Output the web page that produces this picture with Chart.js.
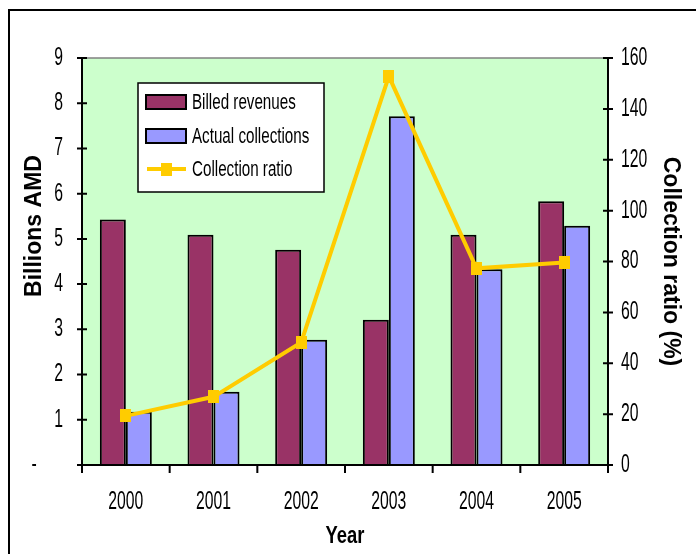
<!DOCTYPE html>
<html>
<head>
<meta charset="utf-8">
<script src="https://cdn.jsdelivr.net/npm/chart.js@4"></script>
<style>
    body { margin: 0; background: #fff; }
    #box { width: 696px; height: 554px; }
</style>
</head>
<body>
<div id="box"><canvas id="revChart"></canvas></div>
<script>
// data
const years = ['2000', '2001', '2002', '2003', '2004', '2005'];
const billedRevenues = [5.43, 5.09, 4.76, 3.21, 5.09, 5.83];
const actualCollections = [1.18, 1.62, 2.77, 7.71, 4.33, 5.29];
const collectionRatio = [19.3, 26.8, 48.2, 152.8, 77.3, 79.6];
const leftTicks = ['-', '1', '2', '3', '4', '5', '6', '7', '8', '9'];

const FONT = "'Liberation Sans', Arial, sans-serif";
const GOLD = '#FFCC00';

// no narrow font installed, so squeeze upright text sideways when it is drawn
let squeeze = 0.63;
const rawFillText = CanvasRenderingContext2D.prototype.fillText;
CanvasRenderingContext2D.prototype.fillText = function (text, x, y) {
    const m = this.getTransform();
    if (m.b !== 0 || m.c !== 0) return rawFillText.call(this, text, x, y);
    const k = this.font.indexOf('bold') >= 0 ? 0.8 : squeeze;
    this.save();
    this.translate(x, y);
    this.scale(k, 1);
    rawFillText.call(this, text, 0, 0);
    this.restore();
};

// slightly tall square marker, like the picture
const marker = document.createElement('canvas');
marker.width = 11;
marker.height = 13;
const mctx = marker.getContext('2d');
mctx.fillStyle = GOLD;
mctx.fillRect(0, 0, 11, 13);

// background, plot area, outer frame
const backdrop = {
    id: 'backdrop',
    beforeDraw(chart) {
        const { ctx, chartArea: a } = chart;
        ctx.save();
        ctx.fillStyle = '#fff';
        ctx.fillRect(0, 0, chart.width, chart.height);
        ctx.fillStyle = '#CCFFCC';
        ctx.fillRect(a.left, a.top, a.right - a.left, a.bottom - a.top);
        ctx.strokeStyle = '#808080';
        ctx.lineWidth = 1.5;
        ctx.beginPath();
        ctx.moveTo(a.left, a.top);
        ctx.lineTo(a.right, a.top);
        ctx.stroke();
        ctx.strokeStyle = '#000';
        ctx.lineWidth = 2;
        ctx.beginPath();
        ctx.moveTo(9, chart.height);
        ctx.lineTo(9, 10);
        ctx.lineTo(chart.width, 10);
        ctx.stroke();
        ctx.restore();
    }
};

// axis lines, crossing tick marks, left title and the legend box
const axesAndLegend = {
    id: 'axesAndLegend',
    afterDraw(chart) {
        const { ctx, chartArea: a, scales } = chart;
        ctx.save();
        ctx.strokeStyle = '#000';
        ctx.lineWidth = 2;
        ctx.beginPath();
        ctx.moveTo(a.left, a.top);
        ctx.lineTo(a.left, a.bottom);
        ctx.lineTo(a.right, a.bottom);
        ctx.lineTo(a.right, a.top);
        scales.y.ticks.forEach(t => {
            const py = scales.y.getPixelForValue(t.value);
            ctx.moveTo(a.left - 5, py);
            ctx.lineTo(a.left + 5, py);
        });
        scales.y1.ticks.forEach(t => {
            const py = scales.y1.getPixelForValue(t.value);
            ctx.moveTo(a.right - 5, py);
            ctx.lineTo(a.right + 5, py);
        });
        const half = (scales.x.getPixelForValue(1) - scales.x.getPixelForValue(0)) / 2;
        for (let i = 0; i <= years.length; i++) {
            const px = scales.x.getPixelForValue(i) - half;
            ctx.moveTo(px, a.bottom);
            ctx.lineTo(px, a.bottom + 8);
        }
        ctx.stroke();

        // left axis title sits a bit above the middle in the picture
        ctx.save();
        ctx.translate(35, 226);
        ctx.rotate(-Math.PI / 2);
        ctx.font = 'bold 23px ' + FONT;
        ctx.fillStyle = '#000';
        ctx.textAlign = 'center';
        ctx.textBaseline = 'middle';
        ctx.fillText('Billions AMD', 0, 0);
        ctx.restore();

        // legend
        const lx = 138, ly = 83, lw = 186, lh = 109;
        ctx.fillStyle = '#fff';
        ctx.fillRect(lx, ly, lw, lh);
        ctx.lineWidth = 1.5;
        ctx.strokeRect(lx, ly, lw, lh);
        ctx.font = '22px ' + FONT;
        ctx.textBaseline = 'middle';
        const rows = [102, 136, 169];
        chart.data.datasets.forEach((ds, i) => {
            const cy = rows[i];
            if (ds.type === 'line') {
                ctx.strokeStyle = ds.borderColor;
                ctx.lineWidth = 4;
                ctx.beginPath();
                ctx.moveTo(147, cy);
                ctx.lineTo(186, cy);
                ctx.stroke();
                ctx.drawImage(marker, 161, cy - 6.5);
            } else {
                ctx.fillStyle = ds.backgroundColor;
                ctx.fillRect(146, cy - 7, 40, 14);
                ctx.strokeStyle = '#000';
                ctx.lineWidth = 2;
                ctx.strokeRect(146, cy - 7, 40, 14);
            }
            ctx.fillStyle = '#000';
            squeeze = 0.69;
            ctx.fillText(ds.label, 192, cy + 1);
            squeeze = 0.63;
        });
        ctx.restore();
    }
};

const tickFont = { family: FONT, size: 25 };

new Chart(document.getElementById('revChart'), {
    data: {
        labels: years,
        datasets: [
            {
                type: 'bar',
                label: 'Billed revenues',
                data: billedRevenues,
                backgroundColor: '#993366',
                borderColor: '#000',
                borderWidth: 2,
                yAxisID: 'y',
                order: 2,
                categoryPercentage: 0.593,
                barPercentage: 1
            },
            {
                type: 'bar',
                label: 'Actual collections',
                data: actualCollections,
                backgroundColor: '#9999FF',
                borderColor: '#000',
                borderWidth: 2,
                yAxisID: 'y',
                order: 2,
                categoryPercentage: 0.593,
                barPercentage: 1
            },
            {
                type: 'line',
                label: 'Collection ratio',
                data: collectionRatio,
                borderColor: GOLD,
                backgroundColor: GOLD,
                borderWidth: 4,
                pointStyle: marker,
                pointRadius: 7,
                tension: 0,
                yAxisID: 'y1',
                order: 1
            }
        ]
    },
    options: {
        responsive: true,
        maintainAspectRatio: false,
        animation: false,
        layout: { padding: { top: 58, left: 0, right: 0, bottom: 0 } },
        plugins: {
            legend: { display: false },
            tooltip: { enabled: false }
        },
        scales: {
            x: {
                offset: true,
                grid: { display: false, drawTicks: false },
                border: { display: false },
                ticks: { font: tickFont, color: '#000', padding: 22, maxRotation: 0, autoSkip: false },
                title: {
                    display: true,
                    text: 'Year',
                    color: '#000',
                    font: { family: FONT, size: 23, weight: 'bold' },
                    padding: { top: 0, bottom: 4 }
                },
                afterFit: s => { s.height = 89; }
            },
            y: {
                position: 'left',
                min: 0,
                max: 9,
                grid: { display: false, drawTicks: false },
                border: { display: false },
                ticks: {
                    stepSize: 1,
                    font: tickFont,
                    color: '#000',
                    padding: 19,
                    callback: v => (v === 0 ? leftTicks[0] + '      ' : leftTicks[v])
                },
                afterFit: s => { s.width = 82; }
            },
            y1: {
                position: 'right',
                min: 0,
                max: 160,
                grid: { display: false, drawTicks: false },
                border: { display: false },
                ticks: { stepSize: 20, font: tickFont, color: '#000', padding: 13 },
                title: {
                    display: true,
                    text: 'Collection ratio (%)',
                    color: '#000',
                    font: { family: FONT, size: 23, weight: 'bold' },
                    padding: { top: 12, bottom: 0 }
                },
                afterFit: s => { s.width = 88; }
            }
        }
    },
    plugins: [backdrop, axesAndLegend]
});
</script>
</body>
</html>
